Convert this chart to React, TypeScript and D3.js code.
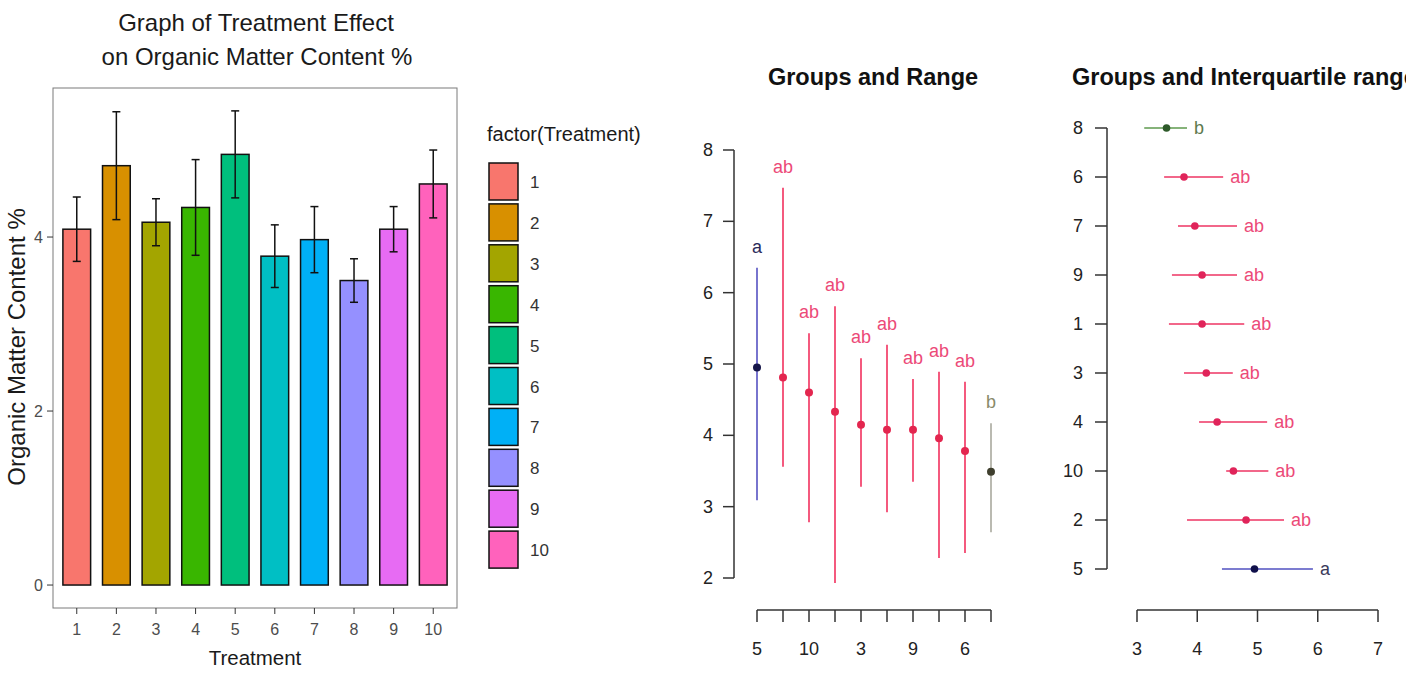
import React from 'react';
import * as d3 from 'd3';

// left panel: mean organic matter per treatment with error bars
const treatments = ['1', '2', '3', '4', '5', '6', '7', '8', '9', '10'];
const omMean = [4.09, 4.82, 4.17, 4.34, 4.95, 3.78, 3.97, 3.5, 4.09, 4.61];
const omErr = [0.37, 0.62, 0.27, 0.55, 0.5, 0.36, 0.38, 0.25, 0.26, 0.39];
const leftTicks = [0, 2, 4];

// middle + right panels: groups ordered by mean
const groupOrder = ['5', '2', '10', '4', '3', '1', '9', '7', '6', '8'];
const groupMean = [4.95, 4.81, 4.6, 4.33, 4.15, 4.08, 4.08, 3.96, 3.78, 3.49];
const groupLetters = ['a', 'ab', 'ab', 'ab', 'ab', 'ab', 'ab', 'ab', 'ab', 'b'];
const rangeMin = [3.09, 3.56, 2.78, 1.93, 3.28, 2.92, 3.35, 2.28, 2.35, 2.64];
const rangeMax = [6.35, 7.47, 5.43, 5.81, 5.08, 5.27, 4.79, 4.89, 4.75, 4.17];
const iqrLow = [4.41, 3.83, 4.48, 4.03, 3.78, 3.53, 3.58, 3.68, 3.45, 3.12];
const iqrHigh = [5.92, 5.44, 5.18, 5.16, 4.59, 4.78, 4.66, 4.66, 4.43, 3.83];
const rangeTicks = [2, 3, 4, 5, 6, 7, 8];
const iqrTicks = [3, 4, 5, 6, 7];

const hue = ['#F8766D', '#D89000', '#A3A500', '#39B600', '#00BF7D', '#00BFC4', '#00B0F6', '#9590FF', '#E76BF3', '#FF62BC'];

const font = 'Liberation Sans, Arial, sans-serif';

function letterColors(l: string) {
  if (l === 'a') return { line: '#5652C2', dot: '#16164A', text: '#2A2A5A' };
  if (l === 'b') return { line: '#A9A99E', dot: '#3F3F2E', text: '#8A8A6A' };
  return { line: '#F2305E', dot: '#E3264F', text: '#EC4A78' };
}
function letterColorsIqr(l: string) {
  if (l === 'a') return { line: '#5050C0', dot: '#10104A', text: '#3A3A5A' };
  if (l === 'b') return { line: '#5E9A4E', dot: '#2E5A2A', text: '#5E7A4E' };
  return { line: '#EE3563', dot: '#E0245A', text: '#EC4A78' };
}

function BarPanel() {
  const x = d3.scalePoint<string>().domain(treatments).range([53, 457]).padding(0.6);
  const step = x.step();
  const y = d3.scaleLinear().domain([-0.264, 5.713]).range([608, 88]);
  const bw = step * 0.7;
  return (
    <g fontFamily={font}>
      <text x={256} y={31} textAnchor="middle" fontSize={24} fill="#1a1a1a">Graph of Treatment Effect</text>
      <text x={257} y={65} textAnchor="middle" fontSize={24} fill="#1a1a1a">on Organic Matter Content %</text>
      <rect x={53} y={88} width={404} height={520} fill="white" stroke="#7a7a7a" strokeWidth={1} />
      {treatments.map((t, i) => {
        const cx = x(t)!;
        return (
          <g key={t}>
            <rect x={cx - bw / 2} y={y(omMean[i])} width={bw} height={y(0) - y(omMean[i])} fill={hue[i]} stroke="#111" strokeWidth={1.5} />
            <line x1={cx} x2={cx} y1={y(omMean[i] + omErr[i])} y2={y(omMean[i] - omErr[i])} stroke="#111" strokeWidth={1.5} />
            <line x1={cx - 4} x2={cx + 4} y1={y(omMean[i] + omErr[i])} y2={y(omMean[i] + omErr[i])} stroke="#111" strokeWidth={1.5} />
            <line x1={cx - 4} x2={cx + 4} y1={y(omMean[i] - omErr[i])} y2={y(omMean[i] - omErr[i])} stroke="#111" strokeWidth={1.5} />
            <line x1={cx} x2={cx} y1={608} y2={614} stroke="#333" strokeWidth={1} />
            <text x={cx} y={635} textAnchor="middle" fontSize={16} fill="#4d4d4d">{t}</text>
          </g>
        );
      })}
      {leftTicks.map((v) => (
        <g key={v}>
          <line x1={47} x2={53} y1={y(v)} y2={y(v)} stroke="#333" />
          <text x={43} y={y(v) + 6} textAnchor="end" fontSize={16} fill="#4d4d4d">{v}</text>
        </g>
      ))}
      <text transform="translate(25,347) rotate(-90)" textAnchor="middle" fontSize={24} fill="#1a1a1a">Organic Matter Content %</text>
      <text x={255} y={665} textAnchor="middle" fontSize={20.5} fill="#1a1a1a">Treatment</text>
      <text x={487} y={141} fontSize={20} fill="#1a1a1a">factor(Treatment)</text>
      {treatments.map((t, i) => (
        <g key={'lg' + t}>
          <rect x={489} y={163 + i * 40.9} width={29} height={37} fill={hue[i]} stroke="#111" strokeWidth={1.5} />
          <text x={530} y={163 + i * 40.9 + 25} fontSize={17} fill="#333">{t}</text>
        </g>
      ))}
    </g>
  );
}

function RangePanel() {
  const x = d3.scalePoint<string>().domain(groupOrder).range([757, 991]);
  const y = d3.scaleLinear().domain([2, 8]).range([578, 150]);
  return (
    <g fontFamily={font}>
      <text x={873} y={85} textAnchor="middle" fontSize={23.5} fontWeight="bold" fill="#111">Groups and Range</text>
      <line x1={734} x2={734} y1={y(2)} y2={y(8)} stroke="#333" strokeWidth={1.5} />
      {rangeTicks.map((v) => (
        <g key={v}>
          <line x1={723} x2={734} y1={y(v)} y2={y(v)} stroke="#333" strokeWidth={1.5} />
          <text x={713} y={y(v) + 6} textAnchor="end" fontSize={18} fill="#222">{v}</text>
        </g>
      ))}
      <line x1={757} x2={991} y1={610} y2={610} stroke="#333" strokeWidth={1.5} />
      {groupOrder.map((g, i) => {
        const cx = x(g)!;
        const c = letterColors(groupLetters[i]);
        return (
          <g key={g}>
            <line x1={cx} x2={cx} y1={610} y2={622} stroke="#333" strokeWidth={1.5} />
            {i % 2 === 0 && (
              <text x={cx} y={655} textAnchor="middle" fontSize={18} fill="#222">{g}</text>
            )}
            <line x1={cx} x2={cx} y1={y(rangeMax[i])} y2={y(rangeMin[i])} stroke={c.line} strokeWidth={1.6} />
            <circle cx={cx} cy={y(groupMean[i])} r={4} fill={c.dot} />
            <text x={cx} y={y(rangeMax[i]) - 15} textAnchor="middle" fontSize={18} fill={c.text}>{groupLetters[i]}</text>
          </g>
        );
      })}
    </g>
  );
}

function IqrPanel() {
  const y = d3.scalePoint<string>().domain(groupOrder).range([569, 128]);
  const x = d3.scaleLinear().domain([3, 7]).range([1137, 1378]);
  return (
    <g fontFamily={font}>
      <defs>
        <clipPath id="iqrclip">
          <rect x={1040} y={0} width={366} height={675} />
        </clipPath>
      </defs>
      <text x={1072} y={85} fontSize={23.5} fontWeight="bold" fill="#111" clipPath="url(#iqrclip)">Groups and Interquartile range</text>
      <line x1={1107} x2={1107} y1={128} y2={569} stroke="#333" strokeWidth={1.5} />
      {groupOrder.map((g, i) => {
        const cy = y(g)!;
        const c = letterColorsIqr(groupLetters[i]);
        return (
          <g key={g}>
            <line x1={1095} x2={1107} y1={cy} y2={cy} stroke="#333" strokeWidth={1.5} />
            <text x={1083} y={cy + 6} textAnchor="end" fontSize={18} fill="#222">{g}</text>
            <line x1={x(iqrLow[i])} x2={x(iqrHigh[i])} y1={cy} y2={cy} stroke={c.line} strokeWidth={1.6} />
            <circle cx={x(groupMean[i])} cy={cy} r={3.8} fill={c.dot} />
            <text x={x(iqrHigh[i]) + 7} y={cy + 6} fontSize={18} fill={c.text}>{groupLetters[i]}</text>
          </g>
        );
      })}
      <line x1={x(3)} x2={x(7)} y1={610} y2={610} stroke="#333" strokeWidth={1.5} />
      {iqrTicks.map((v) => (
        <g key={v}>
          <line x1={x(v)} x2={x(v)} y1={610} y2={622} stroke="#333" strokeWidth={1.5} />
          <text x={x(v)} y={655} textAnchor="middle" fontSize={18} fill="#222">{v}</text>
        </g>
      ))}
    </g>
  );
}

export default function App() {
  return (
    <svg width={1426} height={675} style={{ position: 'absolute', left: 0, top: 0, background: 'white' }}>
      <rect width={1426} height={675} fill="white" />
      <BarPanel />
      <RangePanel />
      <IqrPanel />
    </svg>
  );
}
